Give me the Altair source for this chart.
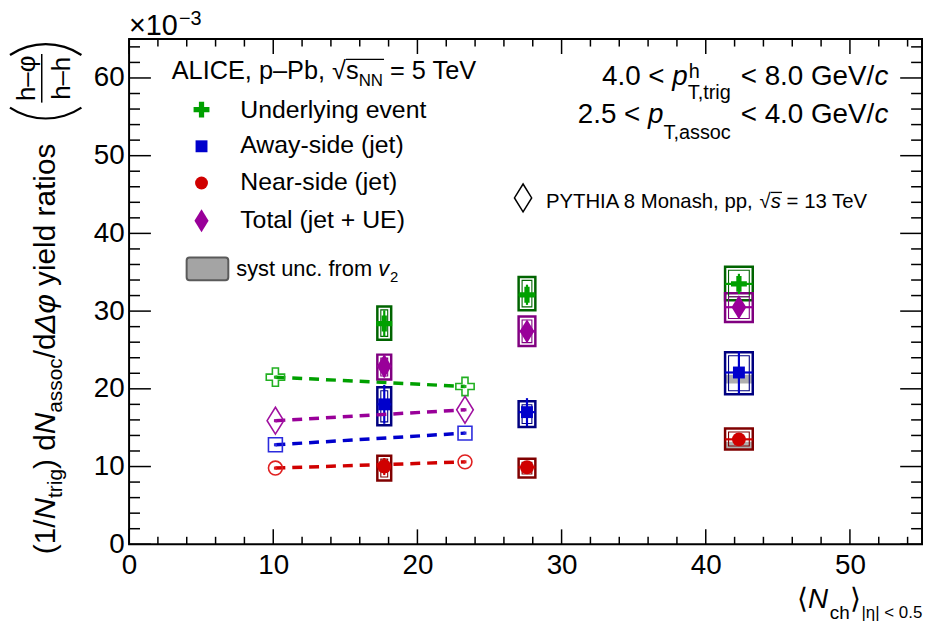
import altair as alt
import pandas as pd

# ---------------- data (yield ratios in units of 1e-3) ----------------
series = ["Underlying event", "Away-side (jet)", "Near-side (jet)", "Total (jet + UE)"]
nch = [17.7, 27.6, 42.3]
nch_err = [0.48, 0.58, 0.96]

ue_val = [28.4, 32.1, 33.5]
ue_stat = [1.7, 1.3, 1.3]
ue_sys_lo = [26.3, 30.1, 31.4]
ue_sys_hi = [30.6, 34.4, 35.7]

away_val = [18.0, 17.0, 22.1]
away_stat = [2.5, 1.8, 2.7]
away_sys_lo = [15.3, 15.1, 19.3]
away_sys_hi = [20.2, 18.4, 24.7]

near_val = [10.0, 9.9, 13.5]
near_stat = [1.1, 0.6, 0.8]
near_sys_lo = [8.2, 8.6, 12.2]
near_sys_hi = [11.4, 11.0, 14.9]

tot_val = [22.9, 27.4, 30.5]
tot_stat = [1.4, 1.3, 1.3]
tot_sys_lo = [21.2, 25.5, 28.6]
tot_sys_hi = [24.4, 29.3, 32.3]

# systematic uncertainty from v2 (visible bands)
v2_series = ["Away-side (jet)", "Near-side (jet)"]
v2_nch = [42.3, 42.3]
v2_lo = [20.7, 12.3]
v2_hi = [21.8, 13.2]

# PYTHIA 8 Monash, pp 13 TeV
py_nch = [10.15, 23.3]
py_ue = [21.5, 20.3]
py_away = [12.8, 14.3]
py_near = [9.8, 10.6]
py_tot = [15.9, 17.3]
py_stat = [0.2, 0.2]

x_major = [0, 10, 20, 30, 40, 50]
x_minor = [v for v in range(0, 56, 2) if v % 10 != 0]
y_major = [0, 10, 20, 30, 40, 50, 60]
y_minor = [v for v in range(0, 66, 2) if v % 10 != 0]

# ---------------- styles ----------------
FONT = "Liberation Sans"
PW, PH = 799, 509
CROSS = "M-0.33,-1H0.33V-0.33H1V0.33H0.33V1H-0.33V0.33H-1V-0.33H-0.33Z"
DIAMOND = "M0,-1L0.62,0L0,1L-0.62,0Z"

marker_col = dict(zip(series, ["#00a000", "#0000cc", "#d00000", "#990099"]))
box_col = dict(zip(series, ["#006400", "#000080", "#800000", "#800080"]))
line_col = dict(zip(series, ["#007000", "#0000a0", "#a00000", "#700070"]))
open_col = dict(zip(series, ["#22b022", "#2b2bdd", "#e02020", "#a010a0"]))
shape_of = dict(zip(series, [CROSS, "square", "circle", DIAMOND]))
size_of = dict(zip(series, [256, 144, 196, 576]))
open_size_of = dict(zip(series, [340, 196, 196, 729]))
leg_size_of = dict(zip(series, [256, 144, 169, 529]))

xs = alt.Scale(domain=[0, 55], nice=False, zero=False)
ys = alt.Scale(domain=[0, 65], nice=False, zero=False)
XAX = alt.Axis(values=x_major, ticks=False, domain=False, grid=False, labelFont=FONT, labelFontSize=28,
               labelColor="black", labelPadding=7, labelFlush=False, labelOverlap=False, title=None)
YAX = alt.Axis(values=y_major, ticks=False, domain=False, grid=False, labelFont=FONT, labelFontSize=28,
               labelColor="black", labelPadding=5, labelFlush=False, labelOverlap=False, title=None)


def X(f):
    return alt.X(f, type="quantitative", scale=xs, axis=XAX)


def Y(f):
    return alt.Y(f, type="quantitative", scale=ys, axis=YAX)


def cscale(d):
    return alt.Scale(domain=series, range=[d[s] for s in series])


# ---------------- tables ----------------
vals = {
    series[0]: (ue_val, ue_stat, ue_sys_lo, ue_sys_hi),
    series[1]: (away_val, away_stat, away_sys_lo, away_sys_hi),
    series[2]: (near_val, near_stat, near_sys_lo, near_sys_hi),
    series[3]: (tot_val, tot_stat, tot_sys_lo, tot_sys_hi),
}
rows = []
for s in series:
    v, st, lo, hi = vals[s]
    for i in range(len(nch)):
        rows.append(dict(series=s, x=nch[i], xlo=nch[i] - nch_err[i], xhi=nch[i] + nch_err[i],
                         val=v[i], elo=v[i] - st[i], ehi=v[i] + st[i], slo=lo[i], shi=hi[i]))
df = pd.DataFrame(rows)

v2rows = []
for s, xv, lo, hi in zip(v2_series, v2_nch, v2_lo, v2_hi):
    e = nch_err[nch.index(xv)]
    v2rows.append(dict(series=s, xlo=xv - e, xhi=xv + e, lo=lo, hi=hi))
dfv2 = pd.DataFrame(v2rows)

pyvals = {series[0]: py_ue, series[1]: py_away, series[2]: py_near, series[3]: py_tot}
prow = []
for s in series:
    for i in range(len(py_nch)):
        prow.append(dict(series=s, x=py_nch[i], val=pyvals[s][i],
                         elo=pyvals[s][i] - py_stat[i], ehi=pyvals[s][i] + py_stat[i]))
dfpy = pd.DataFrame(prow)

layers = []

# axes anchor layer (invisible)
layers.append(
    alt.Chart(pd.DataFrame({"x": [0, 55], "y": [0, 65]})).mark_point(opacity=0).encode(x=X("x"), y=Y("y"))
)

# ticks (ROOT style, pointing inward, mirrored)
tx_maj = pd.DataFrame({"v": x_major})
tx_min = pd.DataFrame({"v": x_minor})
ty_maj = pd.DataFrame({"v": y_major})
ty_min = pd.DataFrame({"v": y_minor})
for d, ln in [(tx_maj, 15), (tx_min, 7.5)]:
    layers.append(alt.Chart(d).mark_rule(color="black", strokeWidth=1.5).encode(
        x=X("v"), y=alt.value(PH), y2=alt.value(PH - ln)))
    layers.append(alt.Chart(d).mark_rule(color="black", strokeWidth=1.5).encode(
        x=X("v"), y=alt.value(0), y2=alt.value(ln)))
for d, ln in [(ty_maj, 22), (ty_min, 11)]:
    layers.append(alt.Chart(d).mark_rule(color="black", strokeWidth=1.5).encode(
        y=Y("v"), x=alt.value(0), x2=alt.value(ln)))
    layers.append(alt.Chart(d).mark_rule(color="black", strokeWidth=1.5).encode(
        y=Y("v"), x=alt.value(PW), x2=alt.value(PW - ln)))

# v2 systematic bands
layers.append(alt.Chart(dfv2).mark_rect(color="#a6a6a6", opacity=0.9).encode(
    x=X("xlo"), x2="xhi:Q", y=Y("hi"), y2="lo:Q"))

# systematic boxes (double outline)
layers.append(alt.Chart(df).mark_rect(fillOpacity=0, strokeWidth=2.5).encode(
    x=X("xlo"), x2="xhi:Q", y=Y("shi"), y2="slo:Q",
    stroke=alt.Stroke("series:N", scale=cscale(box_col), legend=None)))
layers.append(alt.Chart(df).mark_rect(fillOpacity=0, strokeWidth=1.1, xOffset=3.5, x2Offset=-3.5,
                                      yOffset=3.5, y2Offset=-3.5).encode(
    x=X("xlo"), x2="xhi:Q", y=Y("shi"), y2="slo:Q",
    stroke=alt.Stroke("series:N", scale=cscale(box_col), legend=None)))

# statistical error bars
layers.append(alt.Chart(df).mark_rule(strokeWidth=2.2).encode(
    x=X("x"), y=Y("elo"), y2="ehi:Q",
    color=alt.Color("series:N", scale=cscale(marker_col), legend=None)))
layers.append(alt.Chart(df).mark_rule(strokeWidth=2.2).encode(
    x=X("xlo"), x2="xhi:Q", y=Y("val"),
    color=alt.Color("series:N", scale=cscale(marker_col), legend=None)))

# PYTHIA dashed lines
layers.append(alt.Chart(dfpy).mark_line(strokeDash=[10, 7], strokeWidth=3.5).encode(
    x=X("x"), y=Y("val"),
    color=alt.Color("series:N", scale=cscale(line_col), legend=None)))

# PYTHIA open markers + tiny stat bars
for s in series:
    sub = dfpy[dfpy.series == s]
    layers.append(alt.Chart(sub).mark_point(shape=shape_of[s], size=open_size_of[s], filled=False,
                                             color=open_col[s], strokeWidth=1.6, opacity=1).encode(
        x=X("x"), y=Y("val")))
    layers.append(alt.Chart(sub).mark_rule(color=open_col[s], strokeWidth=3).encode(
        x=X("x"), y=Y("elo"), y2="ehi:Q"))

# data markers
for s in series:
    sub = df[df.series == s]
    layers.append(alt.Chart(sub).mark_point(shape=shape_of[s], size=size_of[s], filled=True,
                                             color=marker_col[s], opacity=1, strokeWidth=0).encode(
        x=X("x"), y=Y("val")))

# ---------------- legend symbols ----------------
one = pd.DataFrame({"k": [0]})
leg_y = [71, 108, 145, 183]
for s, yy in zip(series, leg_y):
    layers.append(alt.Chart(one).mark_point(shape=shape_of[s], size=leg_size_of[s], filled=True,
                                             color=marker_col[s], opacity=1, strokeWidth=0).encode(
        x=alt.value(73), y=alt.value(yy)))
layers.append(alt.Chart(one).mark_rect(fill="#a4a4a4", stroke="#5a5a5a", strokeWidth=2, cornerRadius=3).encode(
    x=alt.value(58), x2=alt.value(100), y=alt.value(220), y2=alt.value(243)))
layers.append(alt.Chart(one).mark_point(shape=DIAMOND, size=784, filled=False, color="black",
                                         strokeWidth=1.5, opacity=1).encode(
    x=alt.value(397), y=alt.value(160)))

# ---------------- text ----------------
W = {' ': 278, '(': 333, ')': 333, ',': 278, '-': 333, '.': 278, '/': 278, '<': 584, '=': 584,
     '|': 260, '–': 556, '−': 584, '×': 584, '√': 549, 'Δ': 668, 'φ': 650, 'η': 556}
for ch in "0123456789":
    W[ch] = 556
W.update(dict(zip("ABCDEFGHIJKLMNOPQRSTUVWXYZ",
                  [667, 667, 722, 722, 667, 611, 778, 722, 278, 500, 667, 556, 833, 722, 778, 667, 778,
                   722, 667, 611, 722, 667, 944, 667, 667, 611])))
W.update(dict(zip("abcdefghijklmnopqrstuvwxyz",
                  [556, 556, 500, 556, 556, 278, 556, 556, 222, 222, 500, 222, 833, 556, 556, 556, 556,
                   333, 500, 278, 556, 500, 722, 500, 500, 500])))


def tw(t, fs):
    return sum(W.get(c, 556) for c in t) * fs / 1000.0


texts = []


def add(t, x, y, fs, italic=False, angle=0, align="left"):
    texts.append(dict(t=t, px=x, py=y, fs=fs, italic=italic, angle=angle, align=align))


def lead(t, fs):
    n = len(t) - len(t.lstrip(" "))
    return n * 278 * fs / 1000.0, t.strip(" ")


def run(pieces, x0, y0):
    x = x0
    for t, fs, it, dy in pieces:
        off, tt = lead(t, fs)
        add(tt, x + off, y0 + dy, fs, it)
        x += tw(t, fs)
    return x


# x10^-3
add("×10", 0, -4, 29)
add("−3", tw("×10", 29) + 1, -14, 20)

# Y title (rotated)
yy = 519
bx = -75
for t, fs, it, dx in [("(1/", 30, False, 0), ("N", 30, True, 0), ("trig", 21, False, 7),
                      (") d", 30, False, 0), ("N", 30, True, 0), ("assoc", 21, False, 7),
                      ("/d", 30, False, 0), ("Δφ", 30, True, 0), (" yield ratios", 30, False, 0)]:
    off, tt = lead(t, fs)
    add(tt, bx + dx, yy - off, fs, it, angle=270)
    yy -= tw(t, fs)
add("h–φ", -95, 39.5, 26, angle=270, align="center")
add("h–h", -60, 39.5, 26, angle=270, align="center")

# X title
add("⟨", 673, 573, 28)
add("N", 684, 573, 28, True)
add("ch", 706, 584, 19)
add("⟩", 726, 573, 28)
add("|η| < 0.5", 738, 583, 17)

# ALICE header
x0 = run([("ALICE, p–Pb, ", 25.5, False, 0), ("√", 25.5, False, 0)], 43, 40)
x1 = run([("s", 25.5, False, 0), ("NN", 17, False, 7)], x0, 40)
run([(" = 5 TeV", 25.5, False, 0)], x1, 40)
over1 = (x0, x1 + 1, 40 - 19.5)

# legend labels
for s, yb in zip(series, [79, 115, 152, 190]):
    add(s, 112, yb, 25)
xs2 = run([("syst unc. from ", 22, False, 0), ("v", 22, True, 0)], 108, 239)
add("2", xs2 + 1, 245, 15)

# kinematic ranges (right-aligned)
w1 = tw("4.0 < ", 28) + tw("p", 28) + tw("T,trig", 20) + tw(" < 8.0 GeV/", 28) + tw("c", 28)
xa = 765 - w1
xa = run([("4.0 < ", 28, False, 0), ("p", 28, True, 0)], xa, 46)
add("h", xa + 1, 39, 20)
add("T,trig", xa, 60, 20)
xa += tw("T,trig", 20)
run([(" < 8.0 GeV/", 28, False, 0), ("c", 28, True, 0)], xa, 46)

w2 = tw("2.5 < ", 28) + tw("p", 28) + tw("T,assoc", 20) + tw(" < 4.0 GeV/", 28) + tw("c", 28)
run([("2.5 < ", 28, False, 0), ("p", 28, True, 0), ("T,assoc", 20, False, 16),
     (" < 4.0 GeV/", 28, False, 0), ("c", 28, True, 0)], 765 - w2, 85)

# PYTHIA legend
xp = run([("PYTHIA 8 Monash, pp, ", 20.5, False, 0), ("√", 20.5, False, 0)], 420, 170)
xp2 = run([("s", 20.5, True, 0)], xp, 170)
run([(" = 13 TeV", 20.5, False, 0)], xp2, 170)
over2 = (xp, xp2 + 1, 170 - 15.5)

groups = {}
for it in texts:
    groups.setdefault((it["italic"], it["angle"], it["align"]), []).append(it)
for (ital, ang, al), its in groups.items():
    d = pd.DataFrame({"t": [i["t"] for i in its], "px": [i["px"] for i in its],
                      "py": [i["py"] for i in its], "fs": [i["fs"] for i in its]})
    kw = dict(align=al, baseline="alphabetic", font=FONT, color="black")
    if ital:
        kw["fontStyle"] = "italic"
    if ang:
        kw["angle"] = ang
    layers.append(alt.Chart(d).mark_text(**kw).encode(
        x=alt.X("px:Q", scale=None, axis=None), y=alt.Y("py:Q", scale=None, axis=None),
        text="t:N", size=alt.Size("fs:Q", scale=None, legend=None)))

# sqrt overlines
for a, b, yv in [over1, over2]:
    layers.append(alt.Chart(one).mark_rule(color="black", strokeWidth=1.3).encode(
        x=alt.value(a), x2=alt.value(b), y=alt.value(yv)))

# fraction bar and big parentheses of the y title
layers.append(alt.Chart(one).mark_rule(color="black", strokeWidth=1.5).encode(
    x=alt.value(-88), y=alt.value(15), y2=alt.value(64)))
layers.append(alt.Chart(one).mark_arc(radius=65.5, radius2=63.3, theta=5.69, theta2=6.876, color="black").encode(
    x=alt.value(-84), y=alt.value(69.4)))
layers.append(alt.Chart(one).mark_arc(radius=65.5, radius2=63.3, theta=2.549, theta2=3.735, color="black").encode(
    x=alt.value(-84), y=alt.value(15.6)))

chart = alt.layer(*layers).properties(
    width=PW, height=PH,
    autosize=alt.AutoSizeParams(type="none"),
    padding={"left": 122, "top": 29, "right": 2, "bottom": 76},
    background="white",
).configure_view(stroke="black", strokeWidth=2)

chart.save("out.html", embed_options={"renderer": "svg", "actions": False})
